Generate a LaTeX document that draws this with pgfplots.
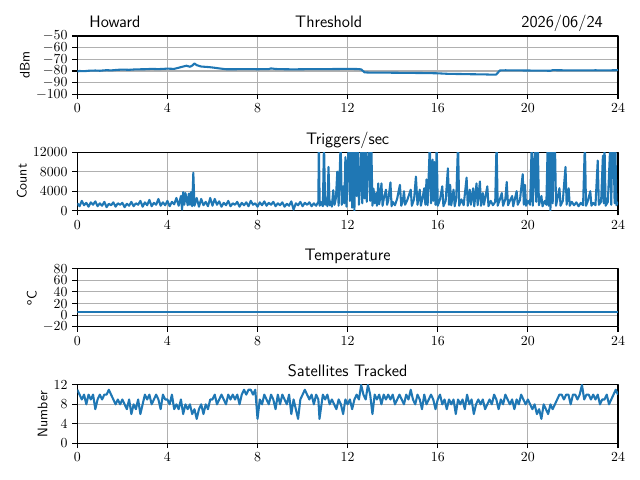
\documentclass[border=0pt]{standalone}
\usepackage{pgfplots}
\pgfplotsset{compat=1.18}
\definecolor{mplblue}{HTML}{1F77B4}
\definecolor{mplgrid}{HTML}{B0B0B0}
\pgfplotsset{
  myax/.style={
    scale only axis,
    width=5.407in, height=0.583in,
    anchor=south west,
    xmin=0, xmax=24,
    xtick={0,4,8,12,16,20,24},
    grid=major,
    grid style={color=mplgrid, line width=0.8pt},
    axis line style={line width=0.8pt},
    every tick/.style={black, line width=0.8pt},
    tick align=outside,
    tick pos=left,
    major tick length=3.5pt,
    scaled y ticks=false,
    /pgf/number format/set thousands separator={},
    title style={font=\sffamily\large, at={(0.5,1)}, anchor=base, yshift=-0.2pt},
    ylabel style={font=\sffamily, inner sep=1pt},
    clip mode=individual,
    line join=round,
  },
  myline/.style={color=mplblue, line width=1.5pt, mark=none, line join=round},
}
\begin{document}
\begin{tikzpicture}
\path[use as bounding box] (0,0) rectangle (6.4in,4.8in);

% ---------- Threshold ----------
\begin{axis}[myax, at={(0.773in,3.857in)},
  ymin=-100, ymax=-50, ytick={-100,-90,-80,-70,-60,-50},
  ylabel={dBm}]
\addplot[myline] coordinates {
(0.00,-80.4) (0.1,-80.0) (0.3,-80.2) (0.5,-79.8) (0.8,-79.6) (1.0,-79.8)
(1.3,-79.3) (1.5,-79.5) (1.8,-79.0) (2.0,-78.8) (2.3,-79.0) (2.6,-78.6)
(3.0,-78.5) (3.3,-78.2) (3.6,-78.4) (4.0,-78.0) (4.3,-78.2) (4.5,-77.2)
(4.7,-76.2) (4.85,-75.5) (5.0,-76.4) (5.1,-75.4) (5.2,-73.6) (5.3,-75.0)
(5.5,-76.2) (5.8,-76.6) (6.0,-77.0) (6.3,-77.8) (6.6,-78.5) (7.0,-78.5)
(7.5,-78.4) (8.0,-78.5) (8.5,-78.4) (8.6,-77.8) (8.8,-78.3) (9.2,-78.5)
(9.6,-78.6) (10.0,-78.5) (10.5,-78.4) (11.0,-78.4) (11.5,-78.3) (12.0,-78.2)
(12.4,-78.3) (12.6,-78.6) (12.75,-81.2) (13.0,-81.4) (13.5,-81.4) (14.0,-81.5)
(14.5,-81.6) (15.0,-81.7) (15.5,-81.8) (16.0,-82.0) (16.5,-82.5) (17.0,-82.6)
(17.5,-82.8) (18.0,-82.9) (18.5,-83.2) (18.6,-83.0) (18.75,-79.6) (19.0,-79.4)
(19.5,-79.5) (20.0,-79.6) (20.5,-79.7) (21.0,-79.8) (21.1,-79.3) (21.5,-79.4)
(22.0,-79.5) (22.5,-79.5) (23.0,-79.4) (23.5,-79.5) (24.0,-79.3)
};
\node[font=\sffamily\large, anchor=base west, inner sep=0pt] at (rel axis cs:0,1) [xshift=8.6pt, yshift=5.8pt] {Howard};
\node[font=\sffamily\large, anchor=base, inner sep=0pt] at (rel axis cs:0.465,1) [yshift=5.8pt] {Threshold};
\node[font=\sffamily\large, anchor=base east, inner sep=0pt] at (rel axis cs:1,1) [xshift=-10.8pt, yshift=5.8pt] {2026/06/24};
\end{axis}

% ---------- Triggers ----------
\begin{axis}[myax, at={(0.773in,2.694in)},
  ymin=0, ymax=12000, ytick={0,4000,8000,12000},
  ylabel={Count}, title={Triggers/sec}]
\addplot[myline] coordinates {
(0.0,1500) (0.1,900) (0.2,2000) (0.3,1100) (0.4,1600) (0.5,800) (0.6,1700) (0.7,1200) (0.8,1900) (0.9,900)
(1.0,1500) (1.1,1000) (1.2,1800) (1.3,700) (1.4,1400) (1.5,1100) (1.6,1700) (1.7,800) (1.8,1500) (1.9,1200)
(2.0,1600) (2.1,700) (2.2,1400) (2.3,1000) (2.4,1800) (2.5,900) (2.6,1500) (2.7,1200) (2.8,2000) (2.9,800)
(3.0,1700) (3.1,1100) (3.2,2200) (3.3,900) (3.4,1600) (3.5,1200) (3.6,2400) (3.7,1000) (3.8,1700) (3.9,1100)
(4.0,2000) (4.1,900) (4.2,1800) (4.3,1300) (4.4,2600) (4.5,1000) (4.6,3000) (4.65,200) (4.7,3800) (4.75,1200)
(4.8,3600) (4.9,1100) (4.95,3500) (5.0,1200) (5.05,3800) (5.1,900) (5.15,7800) (5.2,1000) (5.3,2600) (5.4,800)
(5.5,2400) (5.6,1100) (5.7,1800) (5.8,900) (5.9,2600) (6.0,1000) (6.1,2400) (6.2,1200) (6.3,1900) (6.4,800)
(6.5,1600) (6.6,1100) (6.7,2000) (6.8,900) (6.9,1500) (7.0,1200) (7.1,1800) (7.2,800) (7.3,1600) (7.4,1100)
(7.5,1700) (7.6,900) (7.7,2000) (7.8,1200) (7.9,1500) (8.0,800) (8.1,1700) (8.2,1100) (8.3,1900) (8.4,1000)
(8.5,1600) (8.6,1200) (8.7,1800) (8.8,900) (8.9,1500) (9.0,1100) (9.1,1700) (9.2,800) (9.3,1400) (9.4,1000)
(9.5,1900) (9.6,200) (9.7,1500) (9.8,1100) (9.9,1800) (10.0,900) (10.1,1600) (10.2,1200) (10.3,1700) (10.4,900)
(10.5,1500) (10.6,1000) (10.7,1800)
(10.72,14000) (10.76,1000) (10.8,1800) (10.9,900) (10.95,14000) (11.0,1200) (11.05,2500) (11.1,900)
(11.15,9000) (11.2,1100) (11.25,1800) (11.3,800) (11.36,4200) (11.42,1200) (11.48,2600) (11.54,8000)
(11.6,1000) (11.69,14000) (11.74,1200) (11.8,5000) (11.85,1500) (11.9,11000) (11.95,800) (12.0,9000)
(12.05,14000) (12.1,2000) (12.15,14000) (12.2,600) (12.25,14000) (12.3,0) (12.35,14000) (12.4,3000)
(12.45,14000) (12.5,1200) (12.55,5000) (12.6,14000) (12.65,1500) (12.7,14000) (12.75,2500) (12.8,14000)
(12.85,1800) (12.9,10000) (12.95,14000) (13.0,2000) (13.05,14000) (13.1,1000) (13.15,4500) (13.2,1500)
(13.26,3600) (13.3,1000) (13.36,5600) (13.4,1300) (13.45,2800) (13.5,5600) (13.55,1000) (13.6,2300)
(13.7,4300) (13.75,1200) (13.8,2000) (13.9,5800) (13.95,900) (14.0,1800) (14.1,1100) (14.2,2500)
(14.32,5300) (14.38,1000) (14.45,2000) (14.5,4000) (14.55,1200) (14.65,2200) (14.8,4300) (14.85,1000)
(14.95,2400) (15.03,7000) (15.1,1200) (15.2,4300) (15.25,1000) (15.32,2500) (15.4,4600) (15.45,1200)
(15.5,6400) (15.55,1100) (15.65,14000) (15.7,1500) (15.77,10500) (15.8,2000) (15.85,10000) (15.9,1200)
(15.95,14000) (16.0,1000) (16.1,2300) (16.2,5000) (16.25,900) (16.35,2000) (16.45,8700) (16.5,1200)
(16.55,5300) (16.6,1100) (16.7,4300) (16.75,900) (16.82,2400) (16.9,14000) (16.95,1000) (17.05,2300)
(17.15,1100) (17.28,6800) (17.33,1000) (17.42,4300) (17.47,1200) (17.57,4600) (17.62,900) (17.72,5600)
(17.77,1100) (17.87,6000) (17.92,1000) (18.0,3600) (18.05,1200) (18.2,5000) (18.25,900) (18.35,2000)
(18.45,1100) (18.55,1800) (18.61,14000) (18.66,1000) (18.75,2200) (18.84,3600) (18.9,1000) (19.0,2400)
(19.06,5900) (19.12,1100) (19.2,2000) (19.3,3000) (19.35,900) (19.5,4000) (19.55,1200) (19.65,2200)
(19.77,7500) (19.82,1200) (19.87,5300) (19.92,1000) (20.0,2000) (20.1,1200) (20.17,14000) (20.22,1000)
(20.32,14000) (20.37,1800) (20.44,14000) (20.49,1100) (20.6,3000) (20.65,900) (20.75,2000) (20.82,1200)
(20.88,14000) (20.92,1000) (20.95,14000) (21.0,0) (21.05,14000) (21.1,1500) (21.15,11000) (21.2,14000)
(21.25,1000) (21.3,2200) (21.4,4600) (21.45,1000) (21.55,2000) (21.67,9000) (21.72,1200) (21.81,4600)
(21.86,1000) (21.95,1800) (22.05,1100) (22.15,1700) (22.25,900) (22.35,1600) (22.45,1100) (22.53,14000)
(22.58,1000) (22.65,1800) (22.77,4000) (22.82,1000) (22.9,1600) (23.0,1100) (23.1,10300) (23.15,1200)
(23.25,1800) (23.33,11300) (23.37,1500) (23.4,14000) (23.45,1000) (23.55,1800) (23.66,14000) (23.7,1200)
(23.75,14000) (23.8,14000) (23.85,1500) (23.88,14000) (23.93,1100) (24.0,1800)
};
\end{axis}

% ---------- Temperature ----------
\begin{axis}[myax, at={(0.773in,1.531in)},
  ymin=-20, ymax=80, ytick={-20,0,20,40,60,80},
  ylabel={\textsuperscript{o}C}, title={Temperature}]
\addplot[myline] coordinates {
(0,6) (4,6) (8,6) (12,6) (16,6) (20,6) (24,6)
};
\end{axis}

% ---------- Satellites ----------
\begin{axis}[myax, at={(0.773in,0.368in)},
  ymin=0, ymax=12, ytick={0,4,8,12},
  ylabel={Number}, title={Satellites Tracked}]
\addplot[myline] coordinates {
(0.0,11) (0.1,10) (0.2,9) (0.3,10) (0.4,8) (0.5,10) (0.6,9) (0.7,10) (0.8,7) (0.9,9)
(1.0,10) (1.1,9) (1.2,10) (1.3,10) (1.4,11) (1.5,10) (1.6,9) (1.7,8) (1.8,9) (1.9,8)
(2.0,9) (2.1,8) (2.2,7) (2.3,9) (2.4,6) (2.5,8) (2.6,7) (2.7,9) (2.8,6) (2.9,8)
(3.0,10) (3.1,9) (3.2,10) (3.3,8) (3.4,9) (3.5,10) (3.6,9) (3.7,7) (3.8,10) (3.9,9)
(4.0,9) (4.1,8) (4.2,10) (4.3,7) (4.4,8) (4.5,7) (4.6,9) (4.7,6) (4.8,8) (4.9,7)
(5.0,8) (5.1,6) (5.2,7) (5.3,5) (5.4,7) (5.5,8) (5.6,6) (5.7,8) (5.8,7) (5.9,9)
(6.0,9) (6.1,10) (6.2,8) (6.3,9) (6.4,10) (6.5,9) (6.6,8) (6.7,10) (6.8,9) (6.9,10)
(7.0,9) (7.1,10) (7.2,8) (7.3,10) (7.4,11) (7.5,10) (7.6,11) (7.7,11) (7.8,10) (7.9,11)
(8.0,5) (8.1,9) (8.2,8) (8.3,10) (8.4,9) (8.5,8) (8.6,10) (8.7,9) (8.8,7) (8.9,10)
(9.0,8) (9.1,10) (9.2,9) (9.3,8) (9.4,10) (9.5,6) (9.6,9) (9.7,7) (9.8,5) (9.9,9)
(10.0,10) (10.1,11) (10.2,10) (10.3,9) (10.4,10) (10.5,8) (10.6,10) (10.7,9) (10.75,5) (10.9,10)
(11.0,9) (11.1,10) (11.2,8) (11.3,9) (11.4,8) (11.5,7) (11.6,9) (11.7,8) (11.8,6) (11.9,9)
(12.0,8) (12.1,9) (12.2,7) (12.3,9) (12.4,10) (12.5,9) (12.6,12) (12.7,10) (12.8,9) (12.9,12)
(13.0,10) (13.1,6) (13.2,10) (13.3,9) (13.4,10) (13.5,8) (13.6,10) (13.7,9) (13.8,10) (13.9,9)
(14.0,10) (14.1,8) (14.2,9) (14.3,10) (14.4,9) (14.5,8) (14.6,10) (14.7,9) (14.8,11) (14.9,9)
(15.0,8) (15.1,10) (15.2,9) (15.3,7) (15.4,10) (15.5,8) (15.6,9) (15.7,10) (15.8,9) (15.9,7)
(16.0,9) (16.1,10) (16.2,8) (16.3,9) (16.4,7) (16.5,9) (16.6,8) (16.7,9) (16.8,6) (16.9,9)
(17.0,8) (17.1,9) (17.2,7) (17.3,10) (17.4,8) (17.5,9) (17.6,6) (17.7,8) (17.8,9) (17.9,8)
(18.0,9) (18.1,7) (18.2,8) (18.3,9) (18.4,8) (18.5,10) (18.6,9) (18.7,7) (18.8,9) (18.9,8)
(19.0,10) (19.1,9) (19.2,8) (19.3,9) (19.4,7) (19.5,9) (19.6,8) (19.7,10) (19.8,9) (19.9,8)
(20.0,9) (20.1,8) (20.2,7) (20.3,8) (20.4,6) (20.5,7) (20.6,5) (20.7,8) (20.8,7) (20.9,6)
(21.0,8) (21.1,7) (21.2,8) (21.3,9) (21.4,10) (21.5,10) (21.6,9) (21.7,10) (21.8,10) (21.9,8)
(22.0,10) (22.1,10) (22.2,9) (22.3,10) (22.4,12) (22.5,9) (22.6,10) (22.7,10) (22.8,9) (22.9,10)
(23.0,9) (23.1,10) (23.2,8) (23.3,9) (23.4,9) (23.5,10) (23.6,8) (23.7,9) (23.8,10) (23.9,11)
(24.0,10)
};
\end{axis}
\end{tikzpicture}
\end{document}
